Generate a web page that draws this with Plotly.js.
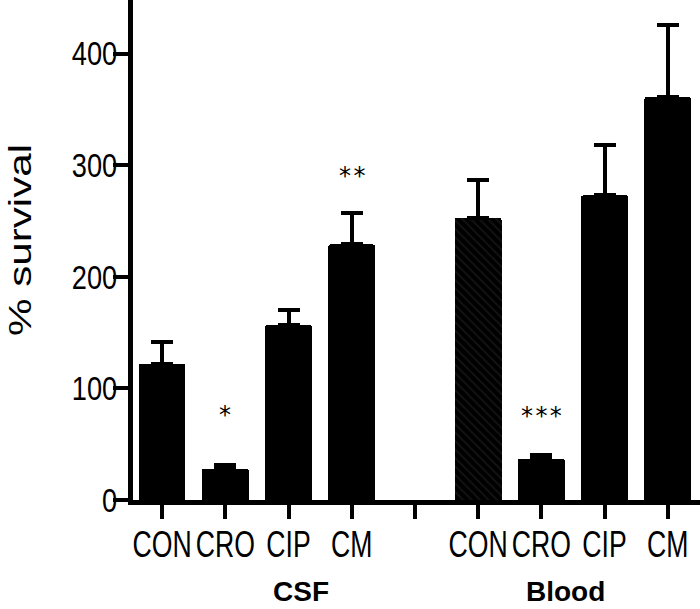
<!DOCTYPE html>
<html>
<head>
<meta charset="utf-8">
<script src="https://cdn.plot.ly/plotly-3.0.1.min.js"></script>
<style>
  html, body { margin: 0; padding: 0; background: #fff; }
  #chart { width: 700px; height: 609px; }
</style>
</head>
<body>
<div id="chart"></div>
<script>
// ---- data ----
const treatments = ['CON', 'CRO', 'CIP', 'CM'];
const groups = ['CSF', 'Blood'];
const csfMean = [122, 28, 157, 229];
const csfSem = [20, 3, 13, 28];
const bloodMean = [253, 37, 273, 361];
const bloodSem = [34, 3, 45, 65];
const csfPos = [0, 1, 2, 3];
const bloodPos = [5, 6, 7, 8];
const tickPositions = [0, 1, 2, 3, 4, 5, 6, 7, 8];
const tickLabels = ['CON', 'CRO', 'CIP', 'CM', '', 'CON', 'CRO', 'CIP', 'CM'];
const yTicks = [0, 100, 200, 300, 400];
// significance marks, CSF bars then Blood bars
const stars = ['', '*', '', '**', '', '***', '', ''];
const starY = [0, 76, 0, 290, 0, 75, 0, 0];

const sansFont = 'Liberation Sans, Arial, sans-serif';

function errBar(arr) {
  return {
    type: 'data', symmetric: false, array: arr,
    arrayminus: arr.map(() => 0),
    color: '#000', thickness: 4, width: 11
  };
}

const traces = [
  {
    type: 'bar', name: groups[0], x: csfPos, y: csfMean,
    width: 0.74,
    marker: { color: '#000', line: { width: 0 }, cornerradius: 2 },
    error_y: errBar(csfSem),
    showlegend: false, hoverinfo: 'y'
  },
  {
    type: 'bar', name: groups[1], x: bloodPos, y: bloodMean,
    width: 0.74,
    marker: {
      color: '#000', line: { width: 0 }, cornerradius: 2,
      pattern: { shape: ['\\', '', '', ''], fgcolor: '#141414', bgcolor: '#000', size: 6, solidity: 0.3 }
    },
    error_y: errBar(bloodSem),
    showlegend: false, hoverinfo: 'y'
  }
];

const allPos = csfPos.concat(bloodPos);
const annotations = [];
stars.forEach((s, i) => {
  if (!s) return;
  annotations.push({
    x: allPos[i], y: starY[i], xref: 'x', yref: 'y',
    text: s.split('').join('\u200A'), showarrow: false,
    font: { family: 'DejaVu Sans', size: 24, color: '#000' },
    xanchor: 'center', yanchor: 'middle'
  });
});
const groupX = [2.2, 6.39];
groups.forEach((g, i) => {
  annotations.push({
    x: groupX[i], y: -0.182, xref: 'x', yref: 'paper',
    text: '<b>' + g + '</b>', showarrow: false, borderpad: 0,
    font: { family: sansFont, size: 28, color: '#000' },
    xanchor: 'center', yanchor: 'middle'
  });
});

const layout = {
  width: 700, height: 609,
  margin: { l: 133, r: 0, t: 0, b: 109, pad: 0 },
  paper_bgcolor: '#fff', plot_bgcolor: '#fff',
  bargap: 0,
  xaxis: {
    range: [-0.46, 8.51],
    tickmode: 'array', tickvals: tickPositions, ticktext: tickLabels,
    tickangle: 0,
    ticks: 'outside', ticklen: 14, tickwidth: 4, tickcolor: '#000',
    ticklabelstandoff: -6,
    showline: true, linewidth: 5, linecolor: '#000',
    showgrid: false, zeroline: false,
    tickfont: { family: sansFont, size: 37, color: '#000' },
    fixedrange: true
  },
  yaxis: {
    range: [0, 448],
    tickmode: 'array', tickvals: yTicks,
    ticks: 'outside', ticklen: 15, tickwidth: 4, tickcolor: '#000',
    ticklabelstandoff: -11,
    showline: true, linewidth: 5, linecolor: '#000',
    showgrid: false, zeroline: false,
    tickfont: { family: sansFont, size: 34, color: '#000' },
    title: { text: '% survival', standoff: 53,
             font: { family: sansFont, size: 31, color: '#000' } },
    fixedrange: true
  },
  annotations: annotations,
  showlegend: false
};

// the reference's lettering is drawn stretched: narrow it (tick labels)
// or widen it (rotated axis title) along the text direction
function stretchText(selector, sx, shiftX, shiftY) {
  document.querySelectorAll(selector).forEach(t => {
    const x = parseFloat(t.getAttribute('x') || 0);
    const y = parseFloat(t.getAttribute('y') || 0);
    const tr = t.getAttribute('transform') || '';
    t.setAttribute('transform',
      tr + ' translate(' + (x + (shiftX || 0)) + ',' + (y + (shiftY || 0)) +
      ') scale(' + sx + ',1) translate(' + (-x) + ',' + (-y) + ')');
  });
}

Plotly.newPlot('chart', traces, layout, { displayModeBar: false, staticPlot: true })
  .then(() => {
    stretchText('.xtick text', 0.72, 0, 0);
    stretchText('.ytick text', 0.8, 0, 0);
    stretchText('.ytitle', 1.36, 10, 3);
  });
</script>
</body>
</html>
